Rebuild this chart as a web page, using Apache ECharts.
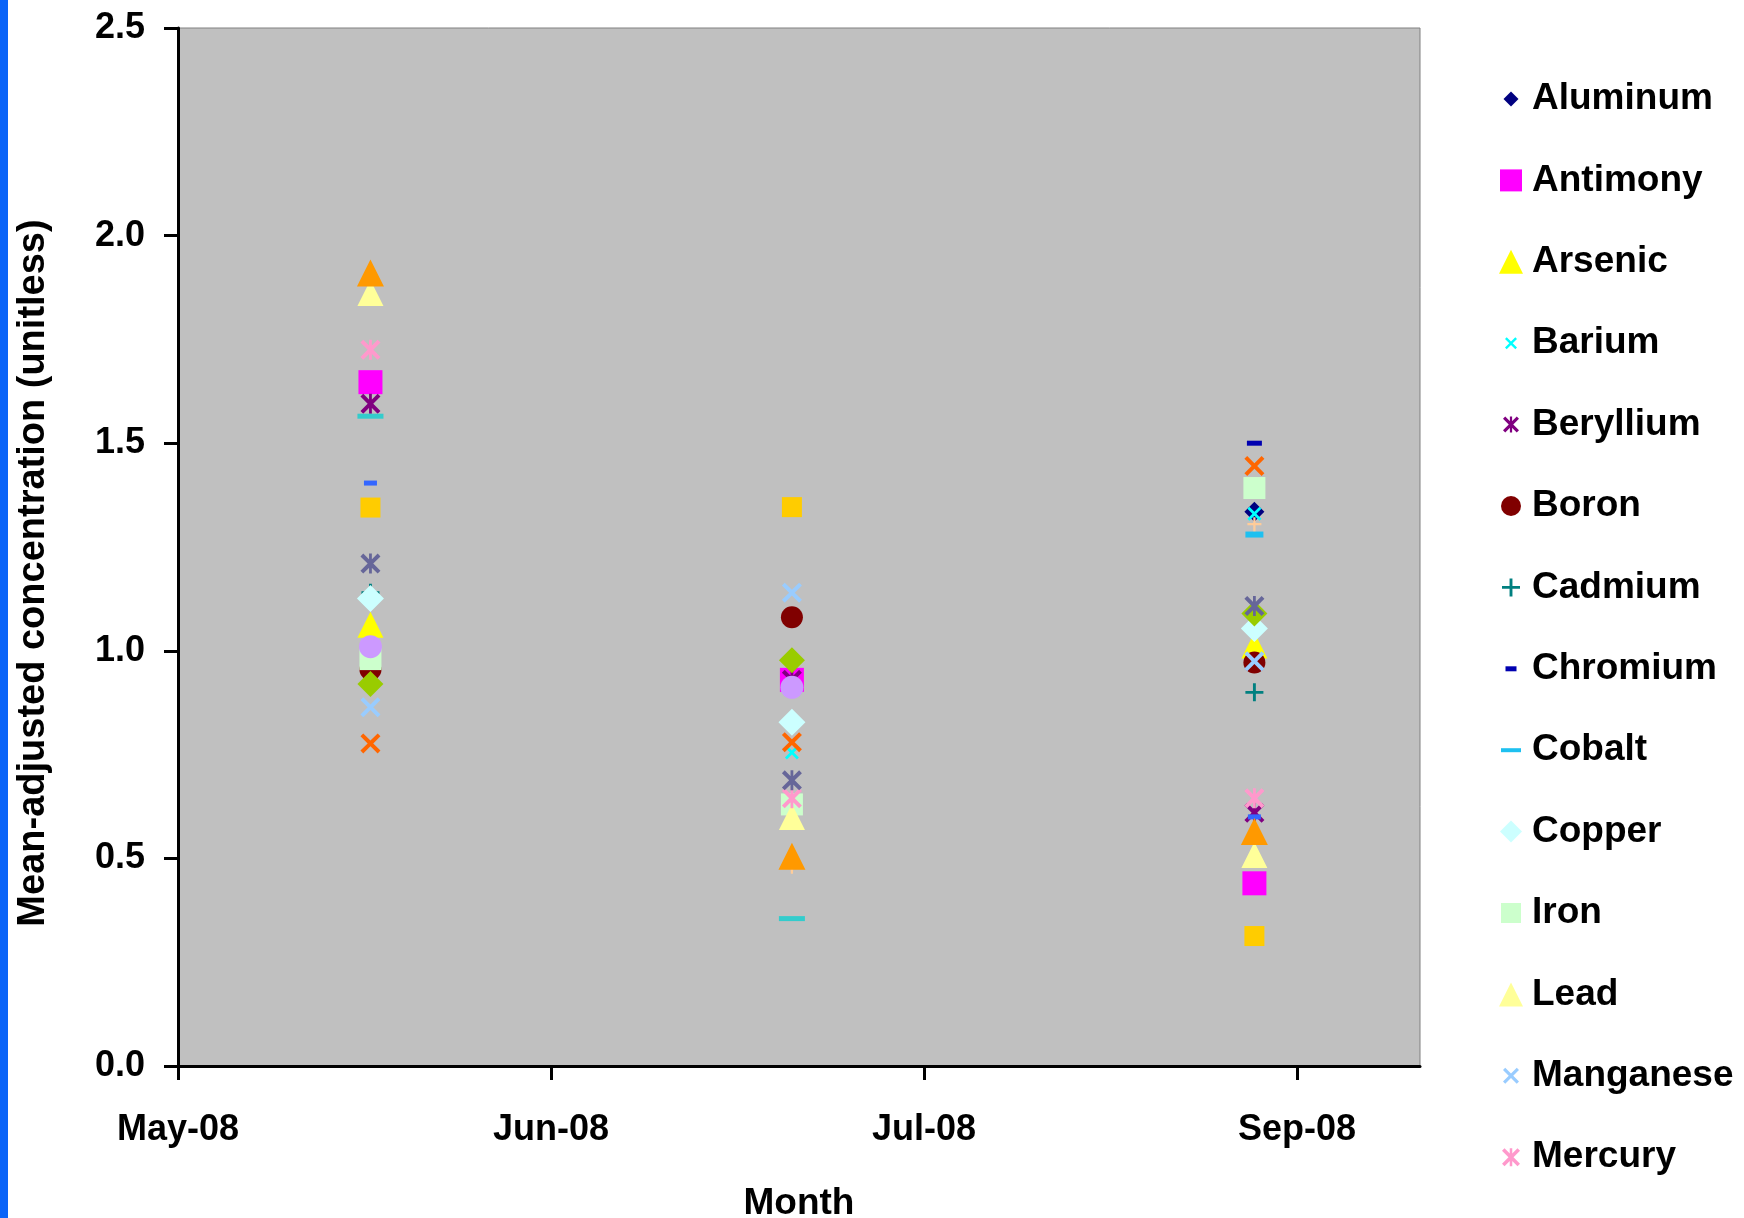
<!DOCTYPE html>
<html><head><meta charset="utf-8">
<script src="https://cdn.jsdelivr.net/npm/echarts@6/dist/echarts.min.js"></script>
<style>html,body{margin:0;padding:0;background:#fff}#chart{width:1744px;height:1218px}</style>
</head><body><div id="chart"></div>
<script>
// ---------- data ----------
const monthLabels = ['May-08', 'Jun-08', 'Jul-08', 'Sep-08'];
const monthTicks = [0, 1, 2, 3];
// sampling dates, in months after the May-08 tick
const sampleMonths = [0.516, 1.646, 2.886];
const elements = ['Aluminum','Antimony','Arsenic','Barium','Beryllium','Boron','Cadmium','Chromium','Cobalt','Copper','Iron','Lead','Manganese','Mercury','Molybdenum','Nickel','Selenium','Silver','Strontium','Thallium','Tin','Vanadium','Zinc'];
const legendCount = 14; // legend is cut off after Mercury
const yTitle = 'Mean-adjusted concentration (unitless)';
// mean-adjusted concentration per element at each sampling (null = hidden / not visible)
const sample1 = [null, 1.647, 1.063, null, 1.595, 0.955, 1.14, null, null, 1.126, 0.98, 1.862, 0.864, 1.725, 1.01, null, 1.404, 1.565, 0.92, 1.345, 1.91, 0.777, 1.21];
const sample2 = [null, 0.93, null, 0.755, 0.93, 1.081, null, null, null, 0.828, 0.63, 0.60, 1.14, 0.645, 0.912, 0.48, null, 0.355, 0.977, 1.346, 0.505, 0.78, 0.688];
const sample3 = [1.335, 0.44, 1.013, 1.33, 0.61, 0.972, 0.90, 1.50, 1.28, 1.054, 1.392, 0.508, 0.975, 0.645, null, 1.305, 0.60, null, 1.09, 0.313, 0.565, 1.445, 1.108];
const samples = [sample1, sample2, sample3];

// ---------- styles ----------
const colors = ['#000080','#FF00FF','#FFFF00','#00FFFF','#800080','#800000','#008080','#0000B0','#1EC0F0','#CCFFFF','#CCFFCC','#FFFF99','#99CCFF','#FF99CC','#CC99FF','#FFCC99','#3366FF','#33CCCC','#99CC00','#FFCC00','#FF9900','#FF6600','#666699'];
const markerKinds = ['diamond','rect','triangle','x','star','circle','plus','sdash','ldash','diamond','rect','triangle','x','star','circle','plus','sdash','ldash','diamond','rect','triangle','x','star'];
const markerSizes = [20,24,26,14,20,22,18,[15,5],[18,6],27,22,26,20,20,23,14,[13,5],[26,5],26,20,27,20,20];
const legendSizes = [15,22,24,12,16,20,18,[11,5],[20,4],22,20,24,16,18];

const X_PTS = [[0,1.4],[1.4,0],[5,3.6],[8.6,0],[10,1.4],[6.4,5],[10,8.6],[8.6,10],[5,6.4],[1.4,10],[0,8.6],[3.6,5]];
const V_PTS = [[4.3,0],[5.7,0],[5.7,10],[4.3,10]];
const P_PTS = [[4.2,0],[5.8,0],[5.8,4.2],[10,4.2],[10,5.8],[5.8,5.8],[5.8,10],[4.2,10],[4.2,5.8],[0,5.8],[0,4.2],[4.2,4.2]];
function poly(pts, cx, cy, s) {
  return 'M' + pts.map(p => (cx + (p[0] - 5) * s / 10).toFixed(2) + ',' + (cy + (p[1] - 5) * s / 10).toFixed(2)).join('L') + 'Z';
}
function shapePath(kind, size, cx, cy) {
  const s = Array.isArray(size) ? size : [size, size];
  const w = s[0], h = s[1];
  switch (kind) {
    case 'diamond': return `M${cx},${cy-h/2}L${cx+w/2},${cy}L${cx},${cy+h/2}L${cx-w/2},${cy}Z`;
    case 'rect': case 'sdash': case 'ldash': return `M${cx-w/2},${cy-h/2}H${cx+w/2}V${cy+h/2}H${cx-w/2}Z`;
    case 'triangle': return `M${cx},${cy-h/2}L${cx+w/2},${cy+h/2}L${cx-w/2},${cy+h/2}Z`;
    case 'circle': { const r = w/2; return `M${cx-r},${cy}A${r},${r} 0 1,0 ${cx+r},${cy}A${r},${r} 0 1,0 ${cx-r},${cy}Z`; }
    case 'x': return poly(X_PTS, cx, cy, w);
    case 'star': return poly(X_PTS, cx, cy, w) + poly(V_PTS, cx, cy, w);
    case 'plus': return poly(P_PTS, cx, cy, w);
  }
}
function seriesSymbol(kind) {
  if (kind === 'diamond' || kind === 'rect' || kind === 'triangle' || kind === 'circle') return kind;
  if (kind === 'sdash' || kind === 'ldash') return 'rect';
  return 'path://' + shapePath(kind, 10, 5, 5);
}
function legendIcon(kind, size) {
  return 'path://M0,0M24,24' + shapePath(kind, size, 12, 12);
}

const FONT = "'Liberation Sans', Arial, sans-serif";

const series = elements.map((name, k) => ({
  type: 'scatter',
  name: name,
  data: sampleMonths.map((m, i) => [m, samples[i][k]]).filter(d => d[1] !== null),
  symbol: seriesSymbol(markerKinds[k]),
  symbolSize: markerSizes[k],
  itemStyle: { color: colors[k], opacity: 1 },
  emphasis: { disabled: true },
  z: 3
}));

const chart = echarts.init(document.getElementById('chart'), null, { renderer: 'canvas' });
chart.setOption({
  animation: false,
  backgroundColor: '#ffffff',
  graphic: [
    { type: 'rect', left: 0, top: 0, shape: { width: 8, height: 1218 }, style: { fill: '#0a64f8' } },
    { type: 'text', x: 34, y: 573, rotation: Math.PI / 2,
      style: { text: yTitle, fill: '#000', font: "bold 38px 'Liberation Sans', Arial, sans-serif", align: 'center', verticalAlign: 'middle' } }
  ],
  grid: {
    left: 178, top: 28, width: 1242, height: 1038,
    show: true, backgroundColor: '#C0C0C0', borderColor: '#808080', borderWidth: 1,
    outerBoundsMode: 'none'
  },
  legend: {
    orient: 'vertical', left: 1499, top: 79, padding: 0,
    itemWidth: 24, itemHeight: 24, itemGap: 41.4,
    data: elements.slice(0, legendCount).map((name, k) => ({
      name: name, icon: legendIcon(markerKinds[k], legendSizes[k])
    })),
    textStyle: { fontFamily: FONT, fontWeight: 'bold', fontSize: 37, color: '#000', lineHeight: 40, padding: [0, 0, 0, 4] },
    selectedMode: false
  },
  xAxis: {
    type: 'value', min: 0, max: 3.33, interval: 1,
    name: 'Month', nameLocation: 'middle', nameGap: 119,
    nameTextStyle: { fontFamily: FONT, fontWeight: 'bold', fontSize: 37, color: '#000' },
    axisLine: { show: true, lineStyle: { color: '#000', width: 3 } },
    axisTick: { show: true, length: 14, lineStyle: { color: '#000', width: 3 }, customValues: monthTicks },
    axisLabel: { customValues: monthTicks, formatter: v => monthLabels[Math.round(v)] || '', margin: 46,
      fontFamily: FONT, fontWeight: 'bold', fontSize: 36, color: '#000' },
    splitLine: { show: false }
  },
  yAxis: {
    type: 'value', min: 0, max: 2.5, interval: 0.5,
    axisLine: { show: true, lineStyle: { color: '#000', width: 3 } },
    axisTick: { show: true, length: 14, lineStyle: { color: '#000', width: 3 } },
    axisLabel: { formatter: v => v.toFixed(1), margin: 33, fontFamily: FONT, fontWeight: 'bold', fontSize: 36, color: '#000' },
    splitLine: { show: false }
  },
  series: series
});
</script>
</body></html>
